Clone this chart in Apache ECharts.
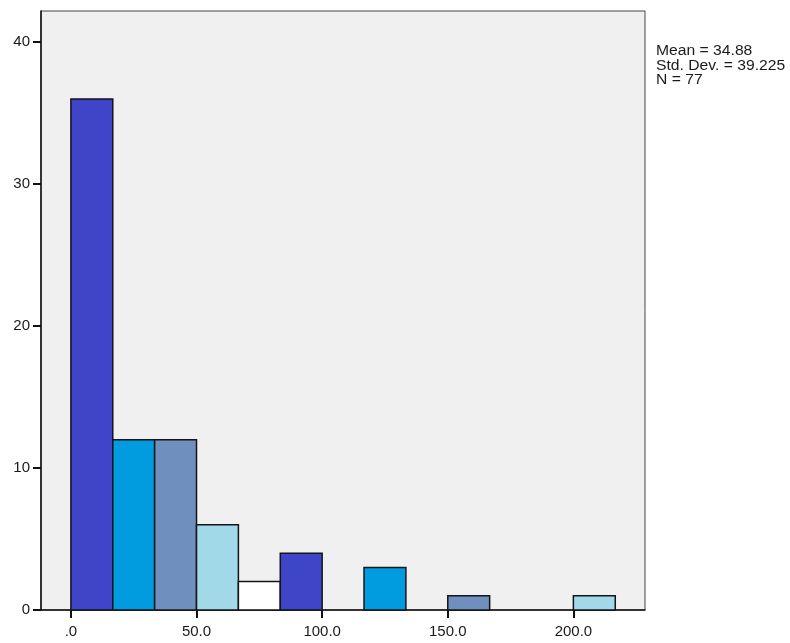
<!DOCTYPE html>
<html>
<head>
<meta charset="utf-8">
<title>Histogram</title>
<script src="https://cdn.jsdelivr.net/npm/echarts@6.0.0/dist/echarts.min.js"></script>
<style>
  html, body { margin: 0; padding: 0; background: #fff; }
  #chart { width: 790px; height: 643px; }
</style>
</head>
<body>
<div id="chart"></div>
<script>
// histogram bins: width 50/3, first bin starts at 0
const binWidth = 50 / 3
const binCounts = [36, 12, 12, 6, 2, 4, 0, 3, 0, 1, 0, 0, 1]
const binColors = ['#3e45c8', '#019be0', '#6f8fbf', '#a2d9e8', '#ffffff', '#3e45c8', null, '#019be0', null, '#6f8fbf', null, null, '#a2d9e8']
const xTicks = [0, 50, 100, 150, 200]
const yTicks = [0, 10, 20, 30, 40]
const statLines = ['Mean = 34.88', 'Std. Dev. = 39.225', 'N = 77']

const bars = []
binCounts.forEach((c, i) => {
  if (c > 0) bars.push([i * binWidth, (i + 1) * binWidth, c, i])
})

const chart = echarts.init(document.getElementById('chart'))

const labelFont = { color: '#1a1a1a', fontSize: 15, fontFamily: 'Liberation Sans, Arial, sans-serif' }

const option = {
  animation: false,
  grid: {
    left: 41, top: 11, right: 145, bottom: 33,
    show: true,
    backgroundColor: '#f0f0f0',
    borderColor: '#444',
    borderWidth: 1
  },
  xAxis: {
    type: 'value',
    min: -11.9,
    max: 228.5,
    splitLine: { show: false },
    axisLine: { show: true, onZero: false, lineStyle: { color: '#111', width: 1.5 } },
    axisTick: { show: true, length: 8, customValues: xTicks, lineStyle: { color: '#111', width: 2 } },
    axisLabel: {
      ...labelFont,
      margin: 14,
      customValues: xTicks,
      formatter: v => v === 0 ? '.0' : v.toFixed(1)
    }
  },
  yAxis: {
    type: 'value',
    min: 0,
    max: 42.2,
    splitLine: { show: false },
    axisLine: { show: true, onZero: false, lineStyle: { color: '#111', width: 1.5 } },
    axisTick: { show: true, length: 8, customValues: yTicks, lineStyle: { color: '#111', width: 2 } },
    axisLabel: { ...labelFont, margin: 11, customValues: yTicks }
  },
  // stats box, the source text is a bit wider than Arial, hence scaleX
  graphic: statLines.map((t, i) => ({
    type: 'text',
    x: 656,
    y: 44 + i * 14.8,
    scaleX: 1.12,
    style: { text: t, fill: '#1a1a1a', fontSize: 14, fontFamily: 'Liberation Sans, Arial, sans-serif' }
  })),
  series: [
    {
      type: 'custom',
      data: bars,
      renderItem: (params, api) => {
        const p0 = api.coord([api.value(0), api.value(2)])
        const p1 = api.coord([api.value(1), 0])
        return {
          type: 'rect',
          shape: { x: p0[0], y: p0[1], width: p1[0] - p0[0], height: p1[1] - p0[1] },
          style: { fill: binColors[api.value(3)], stroke: '#151515', lineWidth: 1.5 }
        }
      }
    }
  ]
}
chart.setOption(option)
</script>
</body>
</html>
